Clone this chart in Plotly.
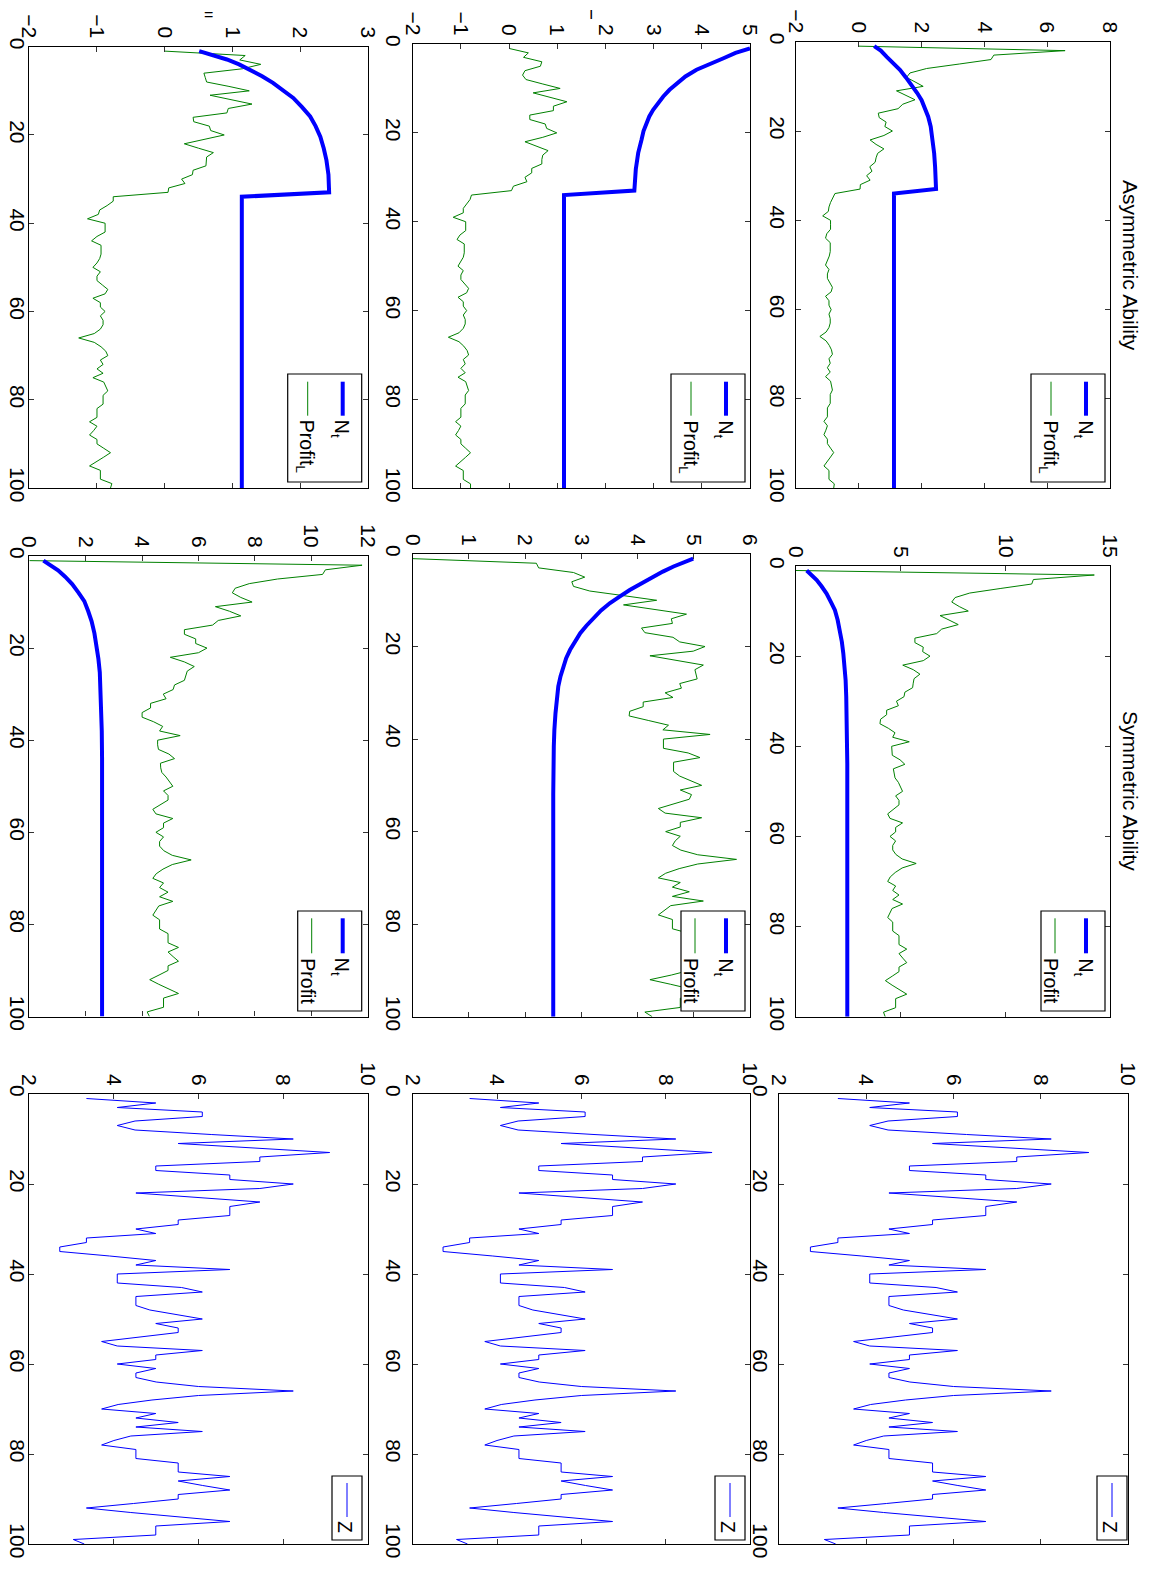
import plotly.graph_objects as go

# ---------------- data ----------------
t = list(range(1, 101))

z = [3.35, 4.99, 4.08, 6.09, 6.09, 4.50, 4.08, 4.50, 6.30, 8.24,
     5.52, 7.30, 9.10, 7.45, 7.45, 4.99, 4.99, 6.74, 6.74, 8.24,
     7.45, 4.52, 6.00, 7.45, 6.74, 6.74, 6.74, 5.52, 5.52, 4.52,
     4.99, 3.35, 3.35, 2.72, 2.72, 3.90, 4.99, 4.52, 6.74, 4.08,
     4.08, 4.08, 5.60, 6.09, 4.52, 4.52, 4.52, 4.85, 5.50, 6.09,
     4.99, 5.52, 5.52, 4.60, 3.71, 4.08, 6.09, 4.99, 4.99, 4.08,
     4.99, 4.52, 4.52, 5.00, 6.00, 8.24, 6.00, 4.90, 4.10, 3.71,
     4.99, 4.52, 5.52, 4.52, 6.09, 4.40, 4.00, 3.71, 4.52, 4.52,
     4.52, 5.52, 5.52, 5.52, 6.74, 5.52, 6.10, 6.74, 5.52, 5.52,
     4.46, 3.35, 4.40, 5.56, 6.74, 4.99, 4.99, 4.99, 3.04, 3.30]

# Asymmetric ability: N_t read at sampled periods (t, value)
n_asym1_t = [1, 2, 3.4, 5, 6.3, 8, 9.7, 11.5, 13.1, 15, 16.8, 19, 22, 25, 28, 33, 34, 100]
n_asym1_v = [0.49, 0.70, 0.89, 1.13, 1.31, 1.50, 1.68, 1.86, 2.00, 2.12, 2.21, 2.29,
             2.35, 2.40, 2.43, 2.46, 1.12, 1.12]
n_asym2_t = [1, 2, 3.2, 4.5, 5.8, 7.3, 8.8, 10.3, 11.8, 13.3, 14.8, 16.3, 17.8, 19.6,
             21.5, 24.5, 28.2, 33, 34, 100]
n_asym2_v = [5.0, 4.70, 4.45, 4.15, 3.89, 3.66, 3.48, 3.33, 3.20, 3.09, 2.99, 2.91,
             2.85, 2.79, 2.75, 2.68, 2.63, 2.60, 1.14, 1.14]
n_asym3_t = [1, 2, 2.9, 4, 5.2, 6.7, 8.2, 9.9, 11.6, 13.7, 15.8, 18, 20.4, 23, 25.7,
             29, 33, 34, 100]
n_asym3_v = [0.51, 0.72, 0.92, 1.10, 1.26, 1.44, 1.60, 1.76, 1.90, 2.03, 2.15, 2.23,
             2.30, 2.35, 2.39, 2.42, 2.43, 1.14, 1.14]

profit_asym1 = [0.00, 6.57, 4.30, 4.21, 3.20, 2.16, 1.63, 1.52, 1.79, 2.05,
                1.20, 1.52, 1.79, 1.40, 1.25, 0.62, 0.65, 0.87, 0.83, 1.07,
                0.80, 0.36, 0.55, 0.80, 0.60, 0.55, 0.52, 0.35, 0.42, 0.25,
                0.36, 0.05, 0.04, -0.76, -0.84, -0.90, -0.95, -0.97, -1.15, -0.90,
                -0.90, -0.90, -1.02, -1.06, -0.91, -0.91, -0.91, -0.94, -1.00, -1.06,
                -0.95, -1.00, -1.00, -0.92, -0.84, -0.88, -1.06, -0.95, -0.95, -0.88,
                -0.95, -0.91, -0.91, -0.95, -1.04, -1.24, -1.04, -0.94, -0.87, -0.84,
                -0.95, -0.91, -1.00, -0.91, -1.06, -0.90, -0.87, -0.84, -0.91, -0.91,
                -0.91, -1.00, -1.00, -1.00, -1.11, -1.00, -1.05, -1.11, -1.00, -1.00,
                -0.90, -0.80, -0.90, -1.00, -1.11, -0.95, -0.95, -0.95, -0.78, -0.80]

profit_asym2 = [0.00, 0.40, 0.30, 0.68, 0.65, 0.33, 0.28, 0.35, 0.70, 1.06,
                0.50, 0.85, 1.20, 0.92, 0.92, 0.43, 0.43, 0.75, 0.78, 0.99,
                0.70, 0.33, 0.55, 0.81, 0.70, 0.68, 0.68, 0.47, 0.47, 0.33,
                0.37, 0.09, 0.05, -0.78, -0.81, -0.88, -0.95, -0.95, -1.16, -0.90,
                -0.90, -0.90, -1.02, -1.08, -0.93, -0.93, -0.93, -0.95, -1.00, -1.06,
                -0.95, -1.00, -1.00, -0.92, -0.84, -0.88, -1.06, -0.95, -0.95, -0.88,
                -0.95, -0.91, -0.91, -0.95, -1.04, -1.26, -1.04, -0.94, -0.87, -0.84,
                -0.95, -0.91, -1.00, -0.91, -1.06, -0.90, -0.87, -0.84, -0.91, -0.91,
                -0.91, -1.00, -1.00, -1.00, -1.11, -1.00, -1.05, -1.11, -1.00, -1.00,
                -0.90, -0.80, -0.90, -1.00, -1.11, -0.95, -0.95, -0.95, -0.80, -0.80]

profit_asym3 = [0.00, 1.19, 1.11, 1.42, 1.15, 0.58, 0.60, 0.62, 0.95, 1.25,
                0.67, 1.00, 1.29, 0.94, 0.92, 0.42, 0.43, 0.66, 0.68, 0.88,
                0.60, 0.29, 0.50, 0.72, 0.62, 0.62, 0.61, 0.42, 0.41, 0.25,
                0.30, 0.06, 0.05, -0.76, -0.76, -0.85, -0.96, -0.98, -1.14, -0.88,
                -0.88, -0.88, -1.00, -1.08, -0.94, -0.94, -0.94, -0.96, -1.00, -1.06,
                -0.95, -1.00, -1.00, -0.92, -0.84, -0.88, -1.06, -0.95, -0.95, -0.88,
                -0.95, -0.91, -0.91, -0.95, -1.04, -1.27, -1.04, -0.94, -0.87, -0.84,
                -0.95, -0.91, -1.00, -0.91, -1.06, -0.90, -0.87, -0.84, -0.91, -0.91,
                -0.91, -1.00, -1.00, -1.00, -1.11, -1.00, -1.05, -1.11, -1.00, -1.00,
                -0.90, -0.80, -0.90, -1.00, -1.11, -0.95, -0.95, -0.95, -0.78, -0.80]

# Symmetric ability: N_t read at sampled periods
n_sym1_t = [1, 2, 3.1, 4.5, 6.1, 8, 9.8, 12, 14.2, 16.8, 19.4, 22.3, 25.3, 29, 32.7,
            38, 43.9, 100]
n_sym1_v = [0.51, 0.76, 0.99, 1.22, 1.46, 1.67, 1.86, 1.99, 2.10, 2.19, 2.26, 2.32,
            2.37, 2.40, 2.42, 2.44, 2.45, 2.45]
n_sym2_t = [1, 1.8, 2.7, 3.8, 4.9, 6.3, 7.8, 9.2, 10.6, 12.2, 13.9, 15.5, 17.1, 18.9,
            20.7, 22.5, 24.3, 26.4, 28.6, 31.5, 34.4, 38, 41.6, 52, 100]
n_sym2_v = [4.99, 4.80, 4.64, 4.45, 4.28, 4.06, 3.86, 3.68, 3.51, 3.35, 3.21, 3.09,
            2.98, 2.88, 2.80, 2.73, 2.68, 2.63, 2.59, 2.56, 2.54, 2.52, 2.51, 2.50, 2.50]
n_sym3_t = [1, 2, 3.1, 4.5, 6.1, 8, 9.8, 12, 14.2, 16.8, 19.4, 22.3, 25.3, 29, 32.7,
            38, 43.9, 100]
n_sym3_v = [0.50, 0.78, 1.02, 1.27, 1.52, 1.75, 1.95, 2.09, 2.21, 2.31, 2.39, 2.45,
            2.50, 2.53, 2.55, 2.57, 2.58, 2.58]

profit_sym1 = [0.00, 14.25, 11.34, 11.26, 9.75, 8.30, 7.60, 7.44, 7.80, 8.23,
               6.88, 7.35, 7.75, 6.96, 6.72, 5.68, 5.68, 6.08, 6.05, 6.40,
               6.08, 5.10, 5.60, 5.92, 5.64, 5.60, 5.57, 5.20, 5.16, 4.80,
               4.89, 4.33, 4.33, 4.04, 4.01, 4.41, 4.73, 4.62, 5.41, 4.57,
               4.57, 4.60, 4.97, 5.20, 4.65, 4.68, 4.73, 4.89, 5.00, 5.09,
               4.76, 4.92, 4.92, 4.65, 4.38, 4.49, 5.09, 4.76, 4.76, 4.49,
               4.76, 4.62, 4.62, 4.77, 5.07, 5.74, 5.07, 4.74, 4.50, 4.38,
               4.76, 4.62, 4.92, 4.62, 5.09, 4.59, 4.47, 4.38, 4.62, 4.62,
               4.62, 4.92, 4.92, 4.92, 5.29, 4.92, 5.10, 5.29, 4.92, 4.92,
               4.60, 4.27, 4.59, 4.94, 5.29, 4.76, 4.76, 4.76, 4.18, 4.26]

profit_sym2 = [0.00, 2.20, 2.24, 2.86, 3.06, 2.83, 2.86, 3.15, 3.75, 4.34,
               3.75, 4.30, 4.87, 4.60, 4.62, 4.07, 4.13, 4.63, 4.75, 5.20,
               4.99, 4.22, 4.70, 5.17, 5.02, 5.04, 5.06, 4.75, 4.78, 4.49,
               4.63, 4.10, 4.10, 3.86, 3.85, 4.20, 4.55, 4.45, 5.29, 4.46,
               4.46, 4.46, 4.90, 5.11, 4.64, 4.64, 4.64, 4.75, 4.95, 5.14,
               4.76, 4.96, 4.92, 4.65, 4.37, 4.49, 5.14, 4.76, 4.76, 4.50,
               4.76, 4.67, 4.62, 4.77, 5.07, 5.76, 5.07, 4.74, 4.50, 4.37,
               4.76, 4.62, 4.92, 4.62, 5.17, 4.59, 4.47, 4.37, 4.62, 4.62,
               4.62, 4.92, 4.92, 4.92, 5.29, 4.92, 5.10, 5.29, 4.92, 4.92,
               4.60, 4.22, 4.59, 4.94, 5.29, 4.76, 4.76, 4.76, 4.13, 4.26]

profit_sym3 = [0.00, 11.80, 10.50, 10.40, 8.80, 7.80, 7.30, 7.20, 7.50, 7.90,
               6.60, 7.10, 7.50, 6.70, 6.50, 5.50, 5.50, 5.90, 5.90, 6.30,
               6.00, 5.00, 5.50, 5.85, 5.60, 5.55, 5.50, 5.15, 5.10, 4.75,
               4.85, 4.30, 4.30, 4.00, 4.00, 4.41, 4.73, 4.62, 5.35, 4.55,
               4.55, 4.58, 4.95, 5.15, 4.65, 4.66, 4.70, 4.85, 4.98, 5.09,
               4.76, 4.92, 4.92, 4.65, 4.38, 4.49, 5.09, 4.76, 4.76, 4.49,
               4.76, 4.62, 4.62, 4.77, 5.07, 5.74, 5.07, 4.74, 4.50, 4.38,
               4.76, 4.62, 4.92, 4.62, 5.09, 4.59, 4.47, 4.38, 4.62, 4.62,
               4.62, 4.92, 4.92, 4.92, 5.29, 4.92, 5.10, 5.29, 4.92, 4.92,
               4.60, 4.27, 4.59, 4.94, 5.29, 4.76, 4.76, 4.76, 4.18, 4.26]

# axis value ranges and tick steps per panel
asym1_range, asym1_dtick = [-2, 8], 2
asym2_range, asym2_dtick = [-2, 5], 1
asym3_range, asym3_dtick = [-2, 3], 1
sym1_range, sym1_dtick = [0, 15], 5
sym2_range, sym2_dtick = [0, 6], 1
sym3_range, sym3_dtick = [0, 12], 2
z_range, z_dtick = [2, 10], 2
t_range, t_dtick = [100, 0], 20

# ---------------- layout helpers ----------------
# The page body has an 8px default margin, so the figure is drawn 16px
# smaller than the window and every pixel position is offset by 8.
PAGE_W, PAGE_H = 1154, 1570
OFF = 8
W, H = PAGE_W - 2 * OFF, PAGE_H - 2 * OFF
BLUE = "#0000FF"
GREEN = "#008000"
FONT = "Liberation Sans, Arial, Helvetica, sans-serif"

def px(x):
    return (x - OFF) / W

def py(y):
    return 1 - (y - OFF) / H

fig = go.Figure()
layout = dict(width=W, height=H,
              margin=dict(l=0, r=0, t=0, b=0, pad=0, autoexpand=False),
              paper_bgcolor="white", plot_bgcolor="white", showlegend=False,
              font=dict(family=FONT, size=21, color="black"))
shapes, annotations = [], []

def add_panel(i, box, vrange, vdtick, standoff=0):
    x0, x1, y0, y1 = box
    xn = "xaxis" if i == 1 else f"xaxis{i}"
    yn = "yaxis" if i == 1 else f"yaxis{i}"
    ax = "y" if i == 1 else f"y{i}"
    ay = "x" if i == 1 else f"x{i}"
    common = dict(ticks="inside", ticklen=5, tickwidth=1, tickcolor="#333",
                  showline=True, linecolor="black", linewidth=1.2,
                  mirror="ticks", showgrid=False, zeroline=False,
                  tickangle=90, fixedrange=True, automargin=False,
                  tickfont=dict(family=FONT, size=21, color="black"))
    layout[xn] = dict(domain=[px(x0), px(x1)], range=vrange, tick0=vrange[0],
                      dtick=vdtick, side="top", anchor=ax, **common)
    layout[yn] = dict(domain=[py(y1), py(y0)], range=t_range, tick0=0,
                      dtick=t_dtick, side="left", anchor=ay,
                      ticklabelstandoff=standoff, **common)
    return ("x" if i == 1 else f"x{i}"), ("y" if i == 1 else f"y{i}")

def legend(box, entries, line_y0, line_y1, text_y):
    bx0, bx1, by0, by1 = box
    shapes.append(dict(type="rect", xref="paper", yref="paper",
                       x0=px(bx0), x1=px(bx1), y0=py(by1), y1=py(by0),
                       line=dict(color="black", width=1.2), fillcolor="white", layer="above"))
    for (dx_line, dx_text, color, width, label) in entries:
        lx = px(bx1 - dx_line)
        shapes.append(dict(type="line", xref="paper", yref="paper",
                           x0=lx, x1=lx, y0=py(line_y0), y1=py(line_y1),
                           line=dict(color=color, width=width), layer="above"))
        annotations.append(dict(text=label, xref="paper", yref="paper",
                                x=px(bx1 - dx_text), y=py(text_y),
                                xanchor="right", yanchor="top", textangle=90,
                                showarrow=False,
                                font=dict(family=FONT, size=19.5, color="black")))

# panel boxes in page pixels: (left, right, top, bottom)
boxes = {
    1: (796, 1110, 41.7, 488.3),   # asym (right column)
    2: (412.7, 750, 44, 488.3),    # asym middle
    3: (29.3, 367.7, 46.7, 488),   # asym left
    4: (796, 1110, 566, 1016.7),   # sym right
    5: (412.7, 750, 554, 1016.7),  # sym middle
    6: (29.3, 367.7, 556, 1016.5), # sym left
    7: (779, 1128, 1094, 1544),    # Z right
    8: (412.7, 750, 1094, 1544),   # Z middle
    9: (29.3, 367.7, 1094, 1544),  # Z left
}
left_column = {3, 6, 9}
LEFT_STANDOFF = -7

panels = [
    (1, asym1_range, asym1_dtick, (n_asym1_t, n_asym1_v), profit_asym1, "Profit<sub>L</sub>"),
    (2, asym2_range, asym2_dtick, (n_asym2_t, n_asym2_v), profit_asym2, "Profit<sub>L</sub>"),
    (3, asym3_range, asym3_dtick, (n_asym3_t, n_asym3_v), profit_asym3, "Profit<sub>L</sub>"),
    (4, sym1_range, sym1_dtick, (n_sym1_t, n_sym1_v), profit_sym1, "Profit"),
    (5, sym2_range, sym2_dtick, (n_sym2_t, n_sym2_v), profit_sym2, "Profit"),
    (6, sym3_range, sym3_dtick, (n_sym3_t, n_sym3_v), profit_sym3, "Profit"),
]

for i, vr, vd, (nt, nv), prof, plabel in panels:
    xa, ya = add_panel(i, boxes[i], vr, vd, LEFT_STANDOFF if i in left_column else 0)
    fig.add_trace(go.Scatter(x=prof, y=t, mode="lines", xaxis=xa, yaxis=ya,
                             line=dict(color=GREEN, width=1), hoverinfo="skip"))
    fig.add_trace(go.Scatter(x=nv, y=nt, mode="lines", xaxis=xa, yaxis=ya,
                             line=dict(color=BLUE, width=4), hoverinfo="skip"))
    if i <= 3:
        r = {1: 1105, 2: 745, 3: 361.7}[i]
        legend((r - 74, r, 374, 482),
               [(19, 6, BLUE, 4, "N<sub>t</sub>"), (54, 41, GREEN, 1, plabel)],
               381.7, 415.7, 418)
    else:
        r = {4: 1105, 5: 745, 6: 361.7}[i]
        legend((r - 64, r, 911, 1011),
               [(19, 6, BLUE, 4, "N<sub>t</sub>"), (50, 41, GREEN, 1, plabel)],
               918.3, 953.3, 956)

for i in (7, 8, 9):
    xa, ya = add_panel(i, boxes[i], z_range, z_dtick,
                       LEFT_STANDOFF if i in left_column else 0)
    fig.add_trace(go.Scatter(x=z, y=t, mode="lines", xaxis=xa, yaxis=ya,
                             line=dict(color=BLUE, width=1), hoverinfo="skip"))
    r = {7: 1127, 8: 745, 9: 362}[i]
    legend((r - 30, r, 1476, 1540), [(15, 4, BLUE, 1, "Z")], 1483, 1517, 1519)

annotations.append(dict(text="Asymmetric Ability", xref="paper", yref="paper",
                        x=px(1131), y=py(265), textangle=90, showarrow=False,
                        xanchor="center", yanchor="middle",
                        font=dict(family=FONT, size=21, color="black")))
annotations.append(dict(text="Symmetric Ability", xref="paper", yref="paper",
                        x=px(1131), y=py(791), textangle=90, showarrow=False,
                        xanchor="center", yanchor="middle",
                        font=dict(family=FONT, size=21, color="black")))
# small clipped marks visible above the first row in the original
annotations.append(dict(text="=", xref="paper", yref="paper",
                        x=px(208), y=py(15), showarrow=False,
                        xanchor="center", yanchor="middle",
                        font=dict(family=FONT, size=16, color="black")))
annotations.append(dict(text="ı", xref="paper", yref="paper",
                        x=px(591), y=py(14), showarrow=False,
                        xanchor="center", yanchor="middle",
                        font=dict(family=FONT, size=16, color="black")))

layout["shapes"] = shapes
layout["annotations"] = annotations
fig.update_layout(**layout)
fig.write_html("out.html")
